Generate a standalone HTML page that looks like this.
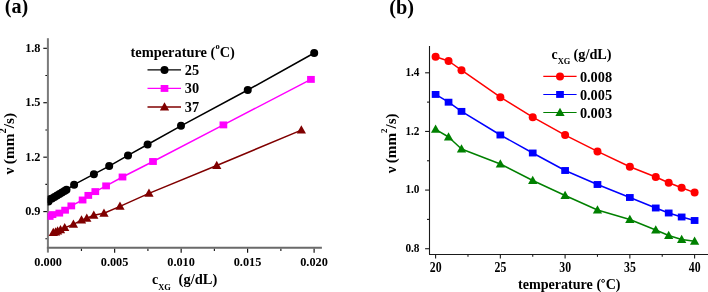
<!DOCTYPE html>
<html><head><meta charset="utf-8"><style>
html,body{margin:0;padding:0;background:#fff;overflow:hidden;}
.wrap{will-change:transform;width:708px;height:292px;}
svg{display:block;}
text{font-family:"Liberation Serif", serif;font-weight:bold;fill:#000;}
</style></head><body>
<div class="wrap"><svg width="708" height="292" viewBox="0 0 708 292">
<rect width="708" height="292" fill="#fff"/>
<line x1="47.90" y1="38.20" x2="47.90" y2="252.60" stroke="#7a7a7a" stroke-width="2.0"/>
<line x1="46.90" y1="247.75" x2="321.90" y2="247.75" stroke="#6a6a6a" stroke-width="1.85"/>
<line x1="43.30" y1="48.30" x2="46.90" y2="48.30" stroke="#000" stroke-width="1.1"/>
<text x="40.50" y="52.00" font-size="12.3" text-anchor="end" >1.8</text>
<line x1="43.30" y1="102.73" x2="46.90" y2="102.73" stroke="#000" stroke-width="1.1"/>
<text x="40.50" y="106.44" font-size="12.3" text-anchor="end" >1.5</text>
<line x1="43.30" y1="157.17" x2="46.90" y2="157.17" stroke="#000" stroke-width="1.1"/>
<text x="40.50" y="160.87" font-size="12.3" text-anchor="end" >1.2</text>
<line x1="43.30" y1="211.61" x2="46.90" y2="211.61" stroke="#000" stroke-width="1.1"/>
<text x="40.50" y="215.31" font-size="12.3" text-anchor="end" >0.9</text>
<line x1="45.40" y1="75.52" x2="46.90" y2="75.52" stroke="#000" stroke-width="1.1"/>
<line x1="45.40" y1="129.95" x2="46.90" y2="129.95" stroke="#000" stroke-width="1.1"/>
<line x1="45.40" y1="184.39" x2="46.90" y2="184.39" stroke="#000" stroke-width="1.1"/>
<line x1="45.40" y1="238.82" x2="46.90" y2="238.82" stroke="#000" stroke-width="1.1"/>
<text transform="translate(48.10,265.60) scale(1.0,1.06)" font-size="12.3" text-anchor="middle" >0.000</text>
<line x1="114.67" y1="248.75" x2="114.67" y2="252.80" stroke="#000" stroke-width="1.1"/>
<text transform="translate(114.58,265.60) scale(1.0,1.06)" font-size="12.3" text-anchor="middle" >0.005</text>
<line x1="181.15" y1="248.75" x2="181.15" y2="252.80" stroke="#000" stroke-width="1.1"/>
<text transform="translate(181.05,265.60) scale(1.0,1.06)" font-size="12.3" text-anchor="middle" >0.010</text>
<line x1="247.62" y1="248.75" x2="247.62" y2="252.80" stroke="#000" stroke-width="1.1"/>
<text transform="translate(247.53,265.60) scale(1.0,1.06)" font-size="12.3" text-anchor="middle" >0.015</text>
<line x1="314.10" y1="248.75" x2="314.10" y2="252.80" stroke="#000" stroke-width="1.1"/>
<text transform="translate(314.00,265.60) scale(1.0,1.06)" font-size="12.3" text-anchor="middle" >0.020</text>
<line x1="81.44" y1="248.75" x2="81.44" y2="251.00" stroke="#222" stroke-width="1.2"/>
<line x1="147.91" y1="248.75" x2="147.91" y2="251.00" stroke="#222" stroke-width="1.2"/>
<line x1="214.39" y1="248.75" x2="214.39" y2="251.00" stroke="#222" stroke-width="1.2"/>
<line x1="280.86" y1="248.75" x2="280.86" y2="251.00" stroke="#222" stroke-width="1.2"/>
<text x="152.00" y="284.10" font-size="14" text-anchor="start" >c</text>
<text transform="translate(158.20,290.10) scale(1.0,0.88)" font-size="8.4" text-anchor="start" >XG</text>
<text x="178.60" y="284.40" font-size="14.5" text-anchor="start" >(g/dL)</text>
<text transform="translate(13.7,174.4) rotate(-90) scale(1.1,1)" font-size="14">&#957;<tspan dx="3">(mm</tspan><tspan font-size="9.5" dy="-8.2">2</tspan><tspan dy="8.2">/s)</tspan></text>
<text x="4.80" y="13.30" font-size="20.2" text-anchor="start" >(a)</text>
<clipPath id="ca"><rect x="47.6" y="30" width="300" height="217"/></clipPath><g clip-path="url(#ca)">
<polyline fill="none" stroke="#000" stroke-width="1.5" stroke-linejoin="round" points="48.50,201.60 49.50,199.30 52.00,198.50 54.50,197.00 57.00,195.50 59.50,194.00 62.00,192.50 64.50,191.00 66.50,189.80 74.10,184.70 93.90,174.20 109.20,166.10 128.00,155.40 147.60,144.50 181.00,125.80 247.75,90.00 314.20,53.00"/>
<polyline fill="none" stroke="#ff00ff" stroke-width="1.5" stroke-linejoin="round" points="49.70,216.40 52.50,214.60 59.30,213.10 65.10,210.20 71.30,205.90 82.60,200.00 88.30,195.40 95.30,191.60 106.10,185.90 122.50,177.00 153.00,161.50 223.40,124.90 310.95,79.40"/>
<polyline fill="none" stroke="#800000" stroke-width="1.5" stroke-linejoin="round" points="53.30,232.50 55.60,232.00 57.60,231.00 60.50,229.90 64.70,227.70 73.40,224.40 81.50,220.10 86.80,218.30 93.80,215.30 104.00,213.30 120.00,206.40 148.95,193.40 216.75,165.50 301.35,130.10"/>
<circle cx="48.50" cy="201.60" r="4.0" fill="#000"/>
<circle cx="49.50" cy="199.30" r="4.0" fill="#000"/>
<circle cx="52.00" cy="198.50" r="4.0" fill="#000"/>
<circle cx="54.50" cy="197.00" r="4.0" fill="#000"/>
<circle cx="57.00" cy="195.50" r="4.0" fill="#000"/>
<circle cx="59.50" cy="194.00" r="4.0" fill="#000"/>
<circle cx="62.00" cy="192.50" r="4.0" fill="#000"/>
<circle cx="64.50" cy="191.00" r="4.0" fill="#000"/>
<circle cx="66.50" cy="189.80" r="4.0" fill="#000"/>
<circle cx="74.10" cy="184.70" r="4.0" fill="#000"/>
<circle cx="93.90" cy="174.20" r="4.0" fill="#000"/>
<circle cx="109.20" cy="166.10" r="4.0" fill="#000"/>
<circle cx="128.00" cy="155.40" r="4.0" fill="#000"/>
<circle cx="147.60" cy="144.50" r="4.0" fill="#000"/>
<circle cx="181.00" cy="125.80" r="4.0" fill="#000"/>
<circle cx="247.75" cy="90.00" r="4.0" fill="#000"/>
<circle cx="314.20" cy="53.00" r="4.0" fill="#000"/>
<rect x="45.85" y="212.95" width="7.7" height="6.9" fill="#ff00ff"/>
<rect x="48.65" y="211.15" width="7.7" height="6.9" fill="#ff00ff"/>
<rect x="55.45" y="209.65" width="7.7" height="6.9" fill="#ff00ff"/>
<rect x="61.25" y="206.75" width="7.7" height="6.9" fill="#ff00ff"/>
<rect x="67.45" y="202.45" width="7.7" height="6.9" fill="#ff00ff"/>
<rect x="78.75" y="196.55" width="7.7" height="6.9" fill="#ff00ff"/>
<rect x="84.45" y="191.95" width="7.7" height="6.9" fill="#ff00ff"/>
<rect x="91.45" y="188.15" width="7.7" height="6.9" fill="#ff00ff"/>
<rect x="102.25" y="182.45" width="7.7" height="6.9" fill="#ff00ff"/>
<rect x="118.65" y="173.55" width="7.7" height="6.9" fill="#ff00ff"/>
<rect x="149.15" y="158.05" width="7.7" height="6.9" fill="#ff00ff"/>
<rect x="219.55" y="121.45" width="7.7" height="6.9" fill="#ff00ff"/>
<rect x="307.10" y="75.95" width="7.7" height="6.9" fill="#ff00ff"/>
<path d="M53.30,227.70L57.95,235.90L48.65,235.90Z" fill="#800000"/>
<path d="M55.60,227.20L60.25,235.40L50.95,235.40Z" fill="#800000"/>
<path d="M57.60,226.20L62.25,234.40L52.95,234.40Z" fill="#800000"/>
<path d="M60.50,225.10L65.15,233.30L55.85,233.30Z" fill="#800000"/>
<path d="M64.70,222.90L69.35,231.10L60.05,231.10Z" fill="#800000"/>
<path d="M73.40,219.60L78.05,227.80L68.75,227.80Z" fill="#800000"/>
<path d="M81.50,215.30L86.15,223.50L76.85,223.50Z" fill="#800000"/>
<path d="M86.80,213.50L91.45,221.70L82.15,221.70Z" fill="#800000"/>
<path d="M93.80,210.50L98.45,218.70L89.15,218.70Z" fill="#800000"/>
<path d="M104.00,208.50L108.65,216.70L99.35,216.70Z" fill="#800000"/>
<path d="M120.00,201.60L124.65,209.80L115.35,209.80Z" fill="#800000"/>
<path d="M148.95,188.60L153.60,196.80L144.30,196.80Z" fill="#800000"/>
<path d="M216.75,160.70L221.40,168.90L212.10,168.90Z" fill="#800000"/>
<path d="M301.35,125.30L306.00,133.50L296.70,133.50Z" fill="#800000"/>
</g>
<text x="130.50" y="56.60" font-size="14.4" text-anchor="start" >temperature (<tspan font-size="8.5" dy="-8.0" dx="0.2">o</tspan><tspan dy="8.0" dx="-0.1">C)</tspan></text>
<line x1="147.50" y1="69.90" x2="181.00" y2="69.90" stroke="#000" stroke-width="1.3"/>
<circle cx="164.50" cy="69.90" r="4.0" fill="#000"/>
<text x="184.80" y="74.90" font-size="14.3" text-anchor="start" >25</text>
<line x1="147.50" y1="88.45" x2="181.00" y2="88.45" stroke="#ff00ff" stroke-width="1.3"/>
<rect x="160.65" y="85.00" width="7.7" height="6.9" fill="#ff00ff"/>
<text x="184.80" y="93.45" font-size="14.3" text-anchor="start" >30</text>
<line x1="147.50" y1="107.00" x2="181.00" y2="107.00" stroke="#800000" stroke-width="1.3"/>
<path d="M164.50,102.20L169.15,110.40L159.85,110.40Z" fill="#800000"/>
<text x="184.80" y="112.00" font-size="14.3" text-anchor="start" >37</text>
<line x1="429.50" y1="46.00" x2="429.50" y2="254.50" stroke="#1a1a1a" stroke-width="1.1"/>
<line x1="429.00" y1="254.50" x2="708.00" y2="254.50" stroke="#1a1a1a" stroke-width="1.1"/>
<line x1="425.10" y1="72.80" x2="429.50" y2="72.80" stroke="#1a1a1a" stroke-width="1.1"/>
<text transform="translate(419.50,76.00) scale(1.0,1.08)" font-size="11.3" text-anchor="end" >1.4</text>
<line x1="425.10" y1="131.44" x2="429.50" y2="131.44" stroke="#1a1a1a" stroke-width="1.1"/>
<text transform="translate(419.50,134.64) scale(1.0,1.08)" font-size="11.3" text-anchor="end" >1.2</text>
<line x1="425.10" y1="190.08" x2="429.50" y2="190.08" stroke="#1a1a1a" stroke-width="1.1"/>
<text transform="translate(419.50,193.28) scale(1.0,1.08)" font-size="11.3" text-anchor="end" >1.0</text>
<line x1="425.10" y1="248.72" x2="429.50" y2="248.72" stroke="#1a1a1a" stroke-width="1.1"/>
<text transform="translate(419.50,251.92) scale(1.0,1.08)" font-size="11.3" text-anchor="end" >0.8</text>
<line x1="427.00" y1="102.12" x2="429.50" y2="102.12" stroke="#1a1a1a" stroke-width="1.1"/>
<line x1="427.00" y1="160.76" x2="429.50" y2="160.76" stroke="#1a1a1a" stroke-width="1.1"/>
<line x1="427.00" y1="219.40" x2="429.50" y2="219.40" stroke="#1a1a1a" stroke-width="1.1"/>
<line x1="435.60" y1="254.50" x2="435.60" y2="258.50" stroke="#1a1a1a" stroke-width="1.1"/>
<text transform="translate(435.70,271.60) scale(1.0,1.15)" font-size="11.8" text-anchor="middle" >20</text>
<line x1="500.35" y1="254.50" x2="500.35" y2="258.50" stroke="#1a1a1a" stroke-width="1.1"/>
<text transform="translate(500.45,271.60) scale(1.0,1.15)" font-size="11.8" text-anchor="middle" >25</text>
<line x1="565.10" y1="254.50" x2="565.10" y2="258.50" stroke="#1a1a1a" stroke-width="1.1"/>
<text transform="translate(565.20,271.60) scale(1.0,1.15)" font-size="11.8" text-anchor="middle" >30</text>
<line x1="629.85" y1="254.50" x2="629.85" y2="258.50" stroke="#1a1a1a" stroke-width="1.1"/>
<text transform="translate(629.95,271.60) scale(1.0,1.15)" font-size="11.8" text-anchor="middle" >35</text>
<line x1="694.60" y1="254.50" x2="694.60" y2="258.50" stroke="#1a1a1a" stroke-width="1.1"/>
<text transform="translate(694.70,271.60) scale(1.0,1.15)" font-size="11.8" text-anchor="middle" >40</text>
<line x1="467.98" y1="254.50" x2="467.98" y2="256.80" stroke="#1a1a1a" stroke-width="1.1"/>
<line x1="532.73" y1="254.50" x2="532.73" y2="256.80" stroke="#1a1a1a" stroke-width="1.1"/>
<line x1="597.48" y1="254.50" x2="597.48" y2="256.80" stroke="#1a1a1a" stroke-width="1.1"/>
<line x1="662.23" y1="254.50" x2="662.23" y2="256.80" stroke="#1a1a1a" stroke-width="1.1"/>
<text x="518.00" y="289.30" font-size="14.1" text-anchor="start" >temperature (<tspan dx="4.6">C)</tspan></text>
<circle cx="603.1" cy="280.9" r="1.45" fill="none" stroke="#000" stroke-width="0.9"/>
<text transform="translate(396.2,173.2) rotate(-90) scale(1.08,1)" font-size="14">&#957;<tspan dx="3">(mm</tspan><tspan font-size="8.3" dy="-9.0">2</tspan><tspan dy="9.0">/s)</tspan></text>
<text x="389.20" y="13.50" font-size="20.3" text-anchor="start" >(b)</text>
<polyline fill="none" stroke="#ff0000" stroke-width="1.5" stroke-linejoin="round" points="435.60,56.75 448.55,61.00 461.50,70.20 500.35,97.20 532.73,117.20 565.10,135.10 597.48,151.40 629.85,166.70 655.75,177.00 668.70,182.70 681.65,187.80 694.60,192.60"/>
<circle cx="435.60" cy="56.75" r="4.0" fill="#ff0000"/>
<circle cx="448.55" cy="61.00" r="4.0" fill="#ff0000"/>
<circle cx="461.50" cy="70.20" r="4.0" fill="#ff0000"/>
<circle cx="500.35" cy="97.20" r="4.0" fill="#ff0000"/>
<circle cx="532.73" cy="117.20" r="4.0" fill="#ff0000"/>
<circle cx="565.10" cy="135.10" r="4.0" fill="#ff0000"/>
<circle cx="597.48" cy="151.40" r="4.0" fill="#ff0000"/>
<circle cx="629.85" cy="166.70" r="4.0" fill="#ff0000"/>
<circle cx="655.75" cy="177.00" r="4.0" fill="#ff0000"/>
<circle cx="668.70" cy="182.70" r="4.0" fill="#ff0000"/>
<circle cx="681.65" cy="187.80" r="4.0" fill="#ff0000"/>
<circle cx="694.60" cy="192.60" r="4.0" fill="#ff0000"/>
<polyline fill="none" stroke="#0000ff" stroke-width="1.5" stroke-linejoin="round" points="435.60,94.45 448.55,102.20 461.50,111.40 500.35,135.00 532.73,153.00 565.10,170.50 597.48,184.50 629.85,197.50 655.75,208.00 668.70,213.00 681.65,217.00 694.60,220.50"/>
<rect x="431.75" y="91.00" width="7.7" height="6.9" fill="#0000ff"/>
<rect x="444.70" y="98.75" width="7.7" height="6.9" fill="#0000ff"/>
<rect x="457.65" y="107.95" width="7.7" height="6.9" fill="#0000ff"/>
<rect x="496.50" y="131.55" width="7.7" height="6.9" fill="#0000ff"/>
<rect x="528.88" y="149.55" width="7.7" height="6.9" fill="#0000ff"/>
<rect x="561.25" y="167.05" width="7.7" height="6.9" fill="#0000ff"/>
<rect x="593.62" y="181.05" width="7.7" height="6.9" fill="#0000ff"/>
<rect x="626.00" y="194.05" width="7.7" height="6.9" fill="#0000ff"/>
<rect x="651.90" y="204.55" width="7.7" height="6.9" fill="#0000ff"/>
<rect x="664.85" y="209.55" width="7.7" height="6.9" fill="#0000ff"/>
<rect x="677.80" y="213.55" width="7.7" height="6.9" fill="#0000ff"/>
<rect x="690.75" y="217.05" width="7.7" height="6.9" fill="#0000ff"/>
<polyline fill="none" stroke="#008000" stroke-width="1.5" stroke-linejoin="round" points="435.60,129.30 448.55,137.00 461.50,149.00 500.35,164.00 532.73,180.50 565.10,195.50 597.48,210.00 629.85,219.50 655.75,230.00 668.70,235.50 681.65,239.50 694.60,241.25"/>
<path d="M435.60,124.50L440.25,132.70L430.95,132.70Z" fill="#008000"/>
<path d="M448.55,132.20L453.20,140.40L443.90,140.40Z" fill="#008000"/>
<path d="M461.50,144.20L466.15,152.40L456.85,152.40Z" fill="#008000"/>
<path d="M500.35,159.20L505.00,167.40L495.70,167.40Z" fill="#008000"/>
<path d="M532.73,175.70L537.38,183.90L528.08,183.90Z" fill="#008000"/>
<path d="M565.10,190.70L569.75,198.90L560.45,198.90Z" fill="#008000"/>
<path d="M597.48,205.20L602.12,213.40L592.83,213.40Z" fill="#008000"/>
<path d="M629.85,214.70L634.50,222.90L625.20,222.90Z" fill="#008000"/>
<path d="M655.75,225.20L660.40,233.40L651.10,233.40Z" fill="#008000"/>
<path d="M668.70,230.70L673.35,238.90L664.05,238.90Z" fill="#008000"/>
<path d="M681.65,234.70L686.30,242.90L677.00,242.90Z" fill="#008000"/>
<path d="M694.60,236.45L699.25,244.65L689.95,244.65Z" fill="#008000"/>
<text x="551.60" y="58.60" font-size="13.8" text-anchor="start" >c</text>
<text transform="translate(557.80,63.50) scale(1.0,0.87)" font-size="8.4" text-anchor="start" >XG</text>
<text x="573.50" y="59.00" font-size="14.3" text-anchor="start" >(g/dL)</text>
<line x1="543.30" y1="76.40" x2="576.60" y2="76.40" stroke="#ff0000" stroke-width="1.1"/>
<circle cx="560.00" cy="76.40" r="4.0" fill="#ff0000"/>
<text x="579.90" y="81.50" font-size="14.3" text-anchor="start" >0.008</text>
<line x1="543.30" y1="94.45" x2="576.60" y2="94.45" stroke="#0000ff" stroke-width="1.1"/>
<rect x="556.15" y="91.00" width="7.7" height="6.9" fill="#0000ff"/>
<text x="579.90" y="99.55" font-size="14.3" text-anchor="start" >0.005</text>
<line x1="543.30" y1="112.50" x2="576.60" y2="112.50" stroke="#008000" stroke-width="1.1"/>
<path d="M560.00,107.70L564.65,115.90L555.35,115.90Z" fill="#008000"/>
<text x="579.90" y="117.60" font-size="14.3" text-anchor="start" >0.003</text>
</svg></div>
</body></html>
